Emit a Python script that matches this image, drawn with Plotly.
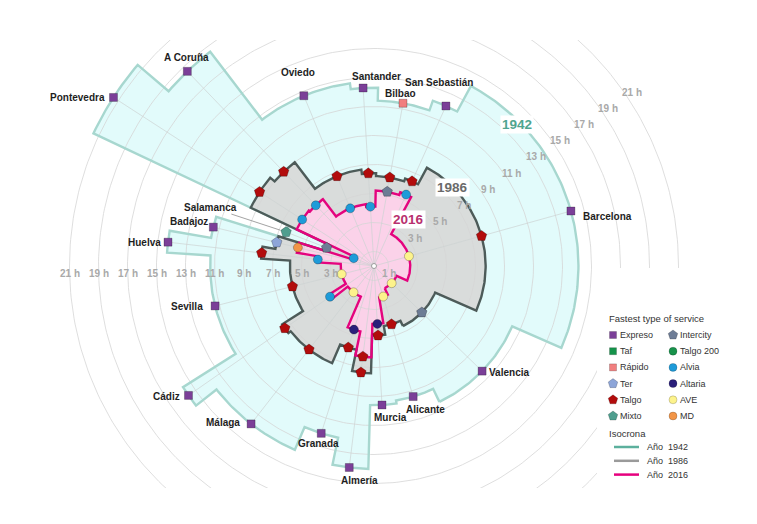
import numpy as np
import plotly.graph_objects as go

# cities in counter-clockwise order round the dial
cities = ['Valencia', 'Barcelona', 'San Sebastián', 'Bilbao', 'Santander', 'Oviedo',
          'A Coruña', 'Pontevedra', 'Salamanca', 'Badajoz', 'Huelva', 'Sevilla',
          'Cádiz', 'Málaga', 'Granada', 'Almería', 'Murcia', 'Alicante']
# direction of each city on the dial (degrees, counter-clockwise from east)
direction = [-44.2, 15.6, 65.8, 79.9, 93.5, 112.4, 133.8, 147.1, 158.9, 166.4,
             173.4, 194.1, 214.9, 232.1, 252.5, 263.0, 273.3, 286.7]
# where each city's sector starts; it ends where the next one starts
sector_from = [-64.3, -23.6, 61.7, 70.4, 88.7, 97.5, 127.4, 139.6, 154.7, 162.7,
               170.2, 176.3, 212.4, 218.1, 246.7, 258.2, 268.4, 279.3]

# fastest travel time from Madrid, hours
hours_1942 = [10.4, 14.1, 12.1, 11.4, 12.3, 12.7, 18.6, 21.4, 6.5, 11.4,
              14.3, 11.3, 15.6, 13.8, 12.1, 14.0, 9.6, 9.4]
hours_1986 = [4.6, 7.7, 6.4, 6.2, 6.4, 6.7, 9.0, 9.4, 3.5, 6.9,
              7.8, 5.8, 7.5, 7.3, 5.9, 7.4, 4.8, 4.2]
hours_2016 = [1.7, 2.5, 5.4, 5.2, 4.1, 4.3, 5.8, 5.9, 1.5, 5.4,
              3.9, 2.3, 3.7, 2.3, 4.6, 6.3, 4.0, 2.2]

# fastest type of service
service_1942 = ['Expreso', 'Expreso', 'Expreso', 'Rápido', 'Expreso', 'Expreso',
                'Expreso', 'Expreso', 'Mixto', 'Expreso', 'Expreso', 'Expreso',
                'Expreso', 'Expreso', 'Expreso', 'Expreso', 'Expreso', 'Expreso']
service_1986 = ['Intercity', 'Talgo', 'Talgo', 'Talgo', 'Talgo', 'Talgo',
                'Talgo', 'Talgo', 'Intercity', 'Ter', 'Talgo', 'Talgo',
                'Talgo', 'Talgo', 'Talgo', 'Talgo', 'Talgo', 'Talgo']
service_2016 = ['AVE', 'AVE', 'Alvia', 'Intercity', 'Alvia', 'Alvia',
                'Alvia', 'Alvia', 'Alvia', 'MD', 'Alvia', 'AVE',
                'Alvia', 'AVE', 'Altaria', 'Talgo', 'Altaria', 'AVE']

years = ['1942', '1986', '2016']
grid_hours = [1, 3, 5, 7, 9, 11, 13, 15, 17, 19, 21]

legend_col1 = ['Expreso', 'Taf', 'Rápido', 'Ter', 'Talgo', 'Mixto']
legend_col2 = ['Intercity', 'Talgo 200', 'Alvia', 'Altaria', 'AVE', 'MD']

# ---- styles ----
PX = 14.5            # pixels per hour
CX, CY = 366, 258    # centre of the dial inside the figure (page adds 8px body margin)
NARROW = 'Liberation Sans Narrow, Arial Narrow, Liberation Sans, Arial, sans-serif'
service_style = {
    'Expreso':   ('square', '#7b3f98', 8),
    'Taf':       ('square', '#14934a', 8),
    'Rápido':    ('square', '#f17f7f', 8),
    'Ter':       ('pentagon', '#8da5d8', 11),
    'Talgo':     ('pentagon', '#b20c0c', 11),
    'Mixto':     ('pentagon', '#4f9e8e', 11),
    'Intercity': ('pentagon', '#6d7c95', 11),
    'Talgo 200': ('circle', '#17924b', 9),
    'Alvia':     ('circle', '#1e9bd9', 9),
    'Altaria':   ('circle', '#2a1f7a', 9),
    'AVE':       ('circle', '#fdf38c', 9),
    'MD':        ('circle', '#f29547', 9),
}
fill_colour = {'1942': '#e2fbfb', '1986': '#d9dcdb', '2016': '#fbd2e9'}
edge_colour = {'1942': '#a7d7cf', '1986': '#4d5b59', '2016': '#e4037e'}
key_colour = {'1942': '#5cb09d', '1986': '#9a9a9a', '2016': '#e6007e'}
year_text = {'1942': ('#4fa58f', 13.85, 44.6), '1986': ('#6a6a6a', 7.7, 45.0),
             '2016': ('#b8306e', 4.0, 54.0)}
# label anchor, x shift, y shift (pixels) from the 1942 marker
label_place = {
    'Pontevedra': ('right', -6, 0), 'A Coruña': ('center', -1, 14),
    'Oviedo': ('center', -6, 23), 'Santander': ('center', 13, 11),
    'Bilbao': ('center', -2, 10), 'San Sebastián': ('center', -7, 23),
    'Barcelona': ('left', 10, -5), 'Valencia': ('left', 5, -1),
    'Alicante': ('center', 12, -13), 'Murcia': ('center', 8, -13),
    'Almería': ('center', 10, -13), 'Granada': ('center', -3, -10),
    'Málaga': ('right', -9, 1), 'Cádiz': ('right', -6, -1),
    'Sevilla': ('right', -10, -1), 'Huelva': ('right', -5, 0),
    'Badajoz': ('right', -3, 6),
}

hours = {'1942': hours_1942, '1986': hours_1986, '2016': hours_2016}
services = {'1942': service_1942, '1986': service_1986, '2016': service_2016}
sector_to = sector_from[1:] + [sector_from[0] + 360]


def xy(r, deg):
    t = np.radians(deg)
    return np.asarray(r) * np.cos(t), np.asarray(r) * np.sin(t)


def isochrone(values):
    # one arc per city sector, joined into a closed step outline
    xs, ys = [], []
    for h, a0, a1 in zip(values, sector_from, sector_to):
        x, y = xy(h, np.linspace(a0, a1, int(a1 - a0) + 2))
        xs += list(x)
        ys += list(y)
    return xs + xs[:1], ys + ys[:1]


fig = go.Figure()

for yr in years:
    x, y = isochrone(hours[yr])
    fig.add_trace(go.Scatter(x=x, y=y, mode='lines', fill='toself',
                             fillcolor=fill_colour[yr], line=dict(width=0)))

# hour rings
gx, gy = [], []
for h in grid_hours:
    x, y = xy(h, np.linspace(0, 360, 361))
    gx += list(x) + [None]
    gy += list(y) + [None]
fig.add_trace(go.Scatter(x=gx, y=gy, mode='lines', line=dict(color='#d6d6d6', width=0.8)))

# spokes to each city
sx, sy = [], []
for h, d in zip(hours_1942, direction):
    x, y = xy([0, h], [d, d])
    sx += list(x) + [None]
    sy += list(y) + [None]
fig.add_trace(go.Scatter(x=sx, y=sy, mode='lines', line=dict(color='#cdd3d3', width=0.7)))

for yr in years:
    x, y = isochrone(hours[yr])
    fig.add_trace(go.Scatter(x=x, y=y, mode='lines', line=dict(color=edge_colour[yr], width=2.4)))

fig.add_trace(go.Scatter(x=[0], y=[0], mode='markers',
                         marker=dict(color='white', size=5, line=dict(color='#888', width=0.8))))

for service, (symbol, colour, size) in service_style.items():
    px_, py_ = [], []
    for yr in years:
        for h, d, s in zip(hours[yr], direction, services[yr]):
            if s == service:
                x, y = xy(h, d)
                px_.append(x)
                py_.append(y)
    if px_:
        fig.add_trace(go.Scatter(x=px_, y=py_, mode='markers',
                                 marker=dict(symbol=symbol, color=colour, size=size,
                                             line=dict(color='rgba(0,0,0,0.35)', width=0.7))))

annotations = []
tick_font = dict(family=NARROW, size=10, color='#a9a9a9', weight='bold')
city_font = dict(family=NARROW, size=10, color='#1e1e1e', weight='bold')
key_font = dict(family=NARROW, size=9, color='#333')

# hour labels: along the horizontal axis and on a diagonal
for h in grid_hours:
    x, y = xy(h, 0 if h == 1 else 180)
    annotations.append(dict(x=x, y=y, text=f'{h} h', showarrow=False, yshift=-7, font=tick_font))
for h in grid_hours[1:]:
    x, y = xy(h + 0.45, 34)
    annotations.append(dict(x=x, y=y, text=f'{h} h', showarrow=False, font=tick_font))

# city names next to their 1942 marker
for name, h, d in zip(cities, hours_1942, direction):
    x, y = xy(h, d)
    if name in label_place:
        anchor, dx, dy = label_place[name]
        annotations.append(dict(x=x, y=y, text=name, showarrow=False, xanchor=anchor,
                                xshift=dx, yshift=dy, font=city_font))
    else:
        annotations.append(dict(x=x, y=y, text=name, showarrow=True, arrowhead=0,
                                arrowwidth=0.8, arrowcolor='#8c8c8c', ax=-76, ay=-25, standoff=6,
                                font=city_font))

for yr in years:
    colour, r, d = year_text[yr]
    x, y = xy(r, d)
    annotations.append(dict(x=x, y=y, text=yr, showarrow=False, bgcolor='white', borderpad=1,
                            font=dict(family=NARROW, size=13.5, color=colour, weight='bold')))

# ---- key (drawn on a pixel overlay, page coordinates) ----
# white panel behind the key hides the outer rings
fig.add_trace(go.Scatter(x=[597, 765, 765, 597, 597], y=[268, 268, 488, 488, 268],
                         xaxis='x2', yaxis='y2', mode='lines', fill='toself',
                         fillcolor='white', line=dict(width=0)))
row_y = 335 + 16.2 * np.arange(6)
for col, mx in ((legend_col1, 613), (legend_col2, 673)):
    for name, ry in zip(col, row_y):
        symbol, colour, size = service_style[name]
        fig.add_trace(go.Scatter(x=[mx], y=[ry], xaxis='x2', yaxis='y2', mode='markers',
                                 marker=dict(symbol=symbol, color=colour, size=size - 1,
                                             line=dict(color='rgba(0,0,0,0.3)', width=0.6))))
        annotations.append(dict(x=mx + 5, y=ry, xref='x2', yref='y2', text=name, showarrow=False,
                                xanchor='left', font=key_font))
annotations.append(dict(x=607, y=318, xref='x2', yref='y2', text='Fastest type of service',
                        showarrow=False, xanchor='left', font=dict(key_font, size=9.5)))
annotations.append(dict(x=607, y=433, xref='x2', yref='y2', text='Isocrona',
                        showarrow=False, xanchor='left', font=dict(key_font, size=9.5)))
for yr, ry in zip(years, 447 + 13.8 * np.arange(3)):
    fig.add_trace(go.Scatter(x=[614, 639], y=[ry, ry], xaxis='x2', yaxis='y2', mode='lines',
                             line=dict(color=key_colour[yr], width=2.5)))
    annotations.append(dict(x=645, y=ry, xref='x2', yref='y2', text=f'Año\u00a0 {yr}',
                            showarrow=False, xanchor='left', font=key_font))

fig.update_traces(hoverinfo='skip')
fig.update_layout(
    width=757, height=524,
    margin=dict(l=0, r=0, t=32, b=44),
    paper_bgcolor='white', plot_bgcolor='white',
    showlegend=False,
    xaxis=dict(range=[-CX / PX, (757 - CX) / PX], visible=False),
    yaxis=dict(range=[-222 / PX, 226 / PX], visible=False),
    xaxis2=dict(range=[8, 765], overlaying='x', anchor='y2', visible=False),
    yaxis2=dict(range=[488, 40], overlaying='y', anchor='x2', visible=False),
    annotations=annotations,
)

fig.write_html('out.html')
